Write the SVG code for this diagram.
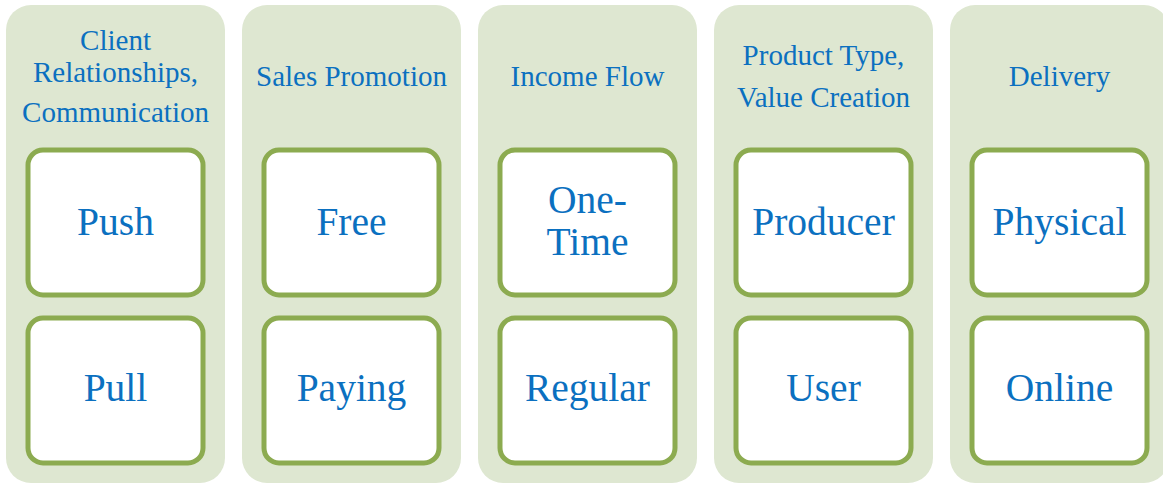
<svg xmlns="http://www.w3.org/2000/svg" width="1163" height="484" viewBox="0 0 1163 484">
<style>
.panel{fill:#DEE7D1}
.box{fill:#FFFFFF;stroke:#8CAB50;stroke-width:5}
.hd{font-family:"Liberation Serif","Times New Roman",serif;font-size:29px;fill:#0B70C0;text-anchor:middle}
.lb{font-family:"Liberation Serif","Times New Roman",serif;font-size:39.5px;fill:#0B70C0;text-anchor:middle}
</style>
<rect width="1163" height="484" fill="#FFFFFF"/>
<g id="col-client">
<rect class="panel" x="6" y="5" width="219" height="478" rx="25"/>
<text class="hd" x="115.5" y="50">Client</text>
<text class="hd" x="115.5" y="82">Relationships,</text>
<text class="hd" x="115.5" y="122">Communication</text>
</g>
<g id="node-push"><rect class="box" x="28" y="150" width="175" height="145" rx="15"/><text class="lb" x="115.5" y="235">Push</text></g>
<g id="node-pull"><rect class="box" x="28" y="318" width="175" height="145" rx="15"/><text class="lb" x="115.5" y="401">Pull</text></g>

<g id="col-sales">
<rect class="panel" x="242" y="5" width="219" height="478" rx="25"/>
<text class="hd" x="351.5" y="86">Sales Promotion</text>
</g>
<g id="node-free"><rect class="box" x="264" y="150" width="175" height="145" rx="15"/><text class="lb" x="351.5" y="235">Free</text></g>
<g id="node-paying"><rect class="box" x="264" y="318" width="175" height="145" rx="15"/><text class="lb" x="351.5" y="401">Paying</text></g>

<g id="col-income">
<rect class="panel" x="478" y="5" width="219" height="478" rx="25"/>
<text class="hd" x="587.5" y="86">Income Flow</text>
</g>
<g id="node-onetime"><rect class="box" x="500" y="150" width="175" height="145" rx="15"/><text class="lb" x="587.5" y="213">One-</text><text class="lb" x="587.5" y="255">Time</text></g>
<g id="node-regular"><rect class="box" x="500" y="318" width="175" height="145" rx="15"/><text class="lb" x="587.5" y="401">Regular</text></g>

<g id="col-product">
<rect class="panel" x="714" y="5" width="219" height="478" rx="25"/>
<text class="hd" x="823.5" y="65">Product Type,</text>
<text class="hd" x="823.5" y="107">Value Creation</text>
</g>
<g id="node-producer"><rect class="box" x="736" y="150" width="175" height="145" rx="15"/><text class="lb" x="823.5" y="235">Producer</text></g>
<g id="node-user"><rect class="box" x="736" y="318" width="175" height="145" rx="15"/><text class="lb" x="823.5" y="401">User</text></g>

<g id="col-delivery">
<rect class="panel" x="950" y="5" width="219" height="478" rx="25"/>
<text class="hd" x="1059.5" y="86">Delivery</text>
</g>
<g id="node-physical"><rect class="box" x="972" y="150" width="175" height="145" rx="15"/><text class="lb" x="1059.5" y="235">Physical</text></g>
<g id="node-online"><rect class="box" x="972" y="318" width="175" height="145" rx="15"/><text class="lb" x="1059.5" y="401">Online</text></g>

<g id="connectors"></g>
</svg>
